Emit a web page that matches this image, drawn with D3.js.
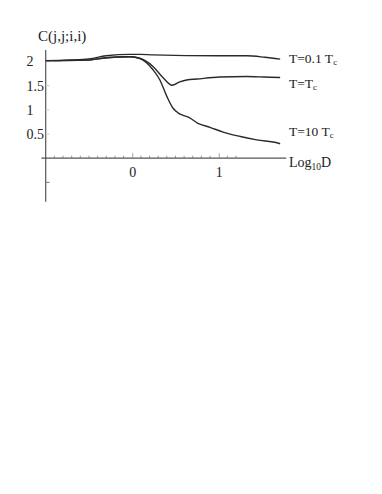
<!DOCTYPE html>
<html>
<head>
<meta charset="utf-8">
<script src="https://cdn.jsdelivr.net/npm/d3@7.9.0/dist/d3.min.js"></script>
<style>
  body { margin: 0; background: #fff; }
  svg { display: block; font-family: "Liberation Serif", "Times New Roman", serif; }
</style>
</head>
<body>
<svg id="chart" width="382" height="494"></svg>
<script>
// log10 D positions shared by the three curves
const logD = [-1.0, -0.53, -0.30, -0.03, 0.09, 0.24, 0.32, 0.36, 0.40, 0.46, 0.47, 0.53, 0.55, 0.57, 0.63,
  0.66, 0.75, 0.76, 0.90, 1.01, 1.05, 1.25, 1.32, 1.44, 1.53, 1.69, 1.71];

// C(j,j;i,i) for each temperature (null = no point at that position)
const cLow = [2.02, 2.05, 2.12, 2.15, 2.15, 2.14, null, null, null, null, null, null, null, null, null,
  null, null, null, null, 2.12, null, null, 2.12, null, 2.09, null, 2.05];
const cCrit = [2.02, 2.03, 2.08, 2.10, 2.07, 1.90, null, 1.66, null, 1.51, null, null, 1.58, null, 1.62,
  null, 1.64, null, null, 1.68, null, null, 1.69, null, 1.68, null, 1.67];
const cHigh = [2.02, 2.03, 2.08, 2.10, 2.06, 1.83, 1.62, null, 1.28, null, 1.04, 0.94, null, 0.90, null,
  0.84, null, 0.72, 0.64, null, 0.54, 0.45, null, 0.38, null, 0.31, 0.30];

const seriesLabels = ["T=0.1 T", "T=T", "T=10 T"];
const xTicks = [0, 1];
const yTicks = [0.5, 1, 1.5, 2];

const svg = d3.select('#chart');

const x = d3.scaleLinear().domain([-1, 1.78]).range([45.7, 286.2]);
const y = d3.scaleLinear().domain([-0.9, 2.24]).range([201.7, 50]);

const ink = '#2a2a2a';

// y axis line
svg.append('line')
  .attr('x1', x(-1)).attr('x2', x(-1))
  .attr('y1', y(-0.9)).attr('y2', y(2.24))
  .attr('stroke', '#555').attr('stroke-width', 1.2);

// faint y ticks pointing inward
svg.selectAll('.ytick')
  .data([-0.5, ...yTicks])
  .join('line')
  .attr('x1', x(-1)).attr('x2', x(-1) + 4)
  .attr('y1', d => y(d)).attr('y2', d => y(d))
  .attr('stroke', d => d < 0 ? '#777' : '#ccc').attr('stroke-width', 1);

// y labels, left aligned
svg.selectAll('.ylab')
  .data(yTicks)
  .join('text')
  .attr('x', 26.5)
  .attr('y', d => y(d))
  .attr('dy', '0.35em')
  .attr('font-size', 14)
  .attr('fill', '#222')
  .text(d => d);

// x axis: line from slightly left of the y axis
svg.append('line')
  .attr('x1', x(-1.05)).attr('x2', x(1.78))
  .attr('y1', y(0)).attr('y2', y(0))
  .attr('stroke', '#555').attr('stroke-width', 1.2);

const minor = d3.range(-9, 13).map(k => k / 10).filter(v => !xTicks.includes(v));
svg.selectAll('.xminor')
  .data(minor)
  .join('line')
  .attr('x1', d => x(d)).attr('x2', d => x(d))
  .attr('y1', y(0)).attr('y2', y(0) - 2.5)
  .attr('stroke', '#777').attr('stroke-width', 0.8);

const xAxis = svg.append('g')
  .attr('transform', `translate(0,${y(0)})`)
  .call(d3.axisBottom(x).tickValues(xTicks).tickSize(-5).tickPadding(9).tickFormat(d3.format('d')));
xAxis.select('.domain').remove();
xAxis.selectAll('line').attr('stroke', '#888').attr('stroke-width', 0.8);
xAxis.selectAll('text')
  .attr('font-size', 14)
  .attr('font-family', '"Liberation Serif", "Times New Roman", serif')
  .attr('fill', '#222');

// curves
const line = d3.line()
  .defined(d => d[1] != null)
  .x(d => x(d[0]))
  .y(d => y(d[1]))
  .curve(d3.curveMonotoneX);

[cLow, cCrit, cHigh].forEach(vals => {
  const pts = logD.map((v, i) => [v, vals[i]]).filter(d => d[1] != null);
  svg.append('path')
    .attr('d', line(pts))
    .attr('fill', 'none')
    .attr('stroke', ink)
    .attr('stroke-width', 1.4);
});

// curve labels with subscript c
const labelY = [62.5, 87.5, 135.5];
seriesLabels.forEach((lab, i) => {
  const t = svg.append('text')
    .attr('x', 289).attr('y', labelY[i])
    .attr('font-size', 13.5).attr('fill', '#222');
  t.append('tspan').text(lab);
  t.append('tspan').attr('font-size', 9).attr('dy', 2).text('c');
});

// axis titles
svg.append('text')
  .attr('x', 38).attr('y', 41)
  .attr('font-size', 15).attr('fill', '#222')
  .text('C(j,j;i,i)');

const xt = svg.append('text')
  .attr('x', 289).attr('y', 167)
  .attr('font-size', 14).attr('fill', '#222');
xt.append('tspan').text('Log');
xt.append('tspan').attr('font-size', 9.5).attr('dy', 3).text('10');
xt.append('tspan').attr('dy', -3).text('D');
</script>
</body>
</html>
